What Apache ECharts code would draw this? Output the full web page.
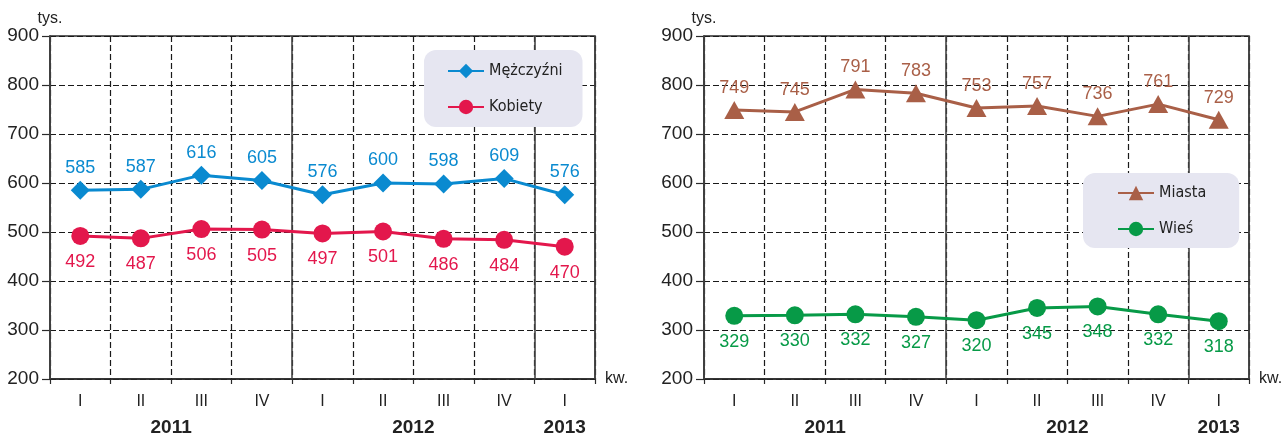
<!DOCTYPE html>
<html><head><meta charset="utf-8">
<script src="https://cdn.jsdelivr.net/npm/echarts@6/dist/echarts.min.js"></script>
<style>html,body{margin:0;padding:0;background:#fff}#c{width:1288px;height:437px}</style>
</head><body><div id="c"></div>
<script>
// ---- data ----
const quarters = ['I','II','III','IV','I','II','III','IV','I'];
const quarterYears = ['2011','2011','2011','2011','2012','2012','2012','2012','2013'];
const men    = [585, 587, 616, 605, 576, 600, 598, 609, 576];
const women  = [492, 487, 506, 505, 497, 501, 486, 484, 470];
const cities = [749, 745, 791, 783, 753, 757, 736, 761, 729];
const rural  = [329, 330, 332, 327, 320, 345, 348, 332, 318];
const yTicks = {min: 200, max: 900, step: 100};
const unitLabel = 'tys.';
const xUnitLabel = 'kw.';

// year label centres (in quarter-boundary units) derived from membership
const yearCentre = {};
(function(){
  const first = {}, last = {};
  quarterYears.forEach((y,i)=>{ if(!(y in first)) first[y]=i; last[y]=i+1; });
  Object.keys(first).forEach(y=>{ yearCentre[(first[y]+last[y])/2] = y; });
})();
const yearBoundaryStep = quarterYears.filter(y=>y===quarterYears[0]).length;

const FONT = "'Liberation Sans', Arial, sans-serif";
const NARROW = "'Liberation Sans Narrow', 'DejaVu Sans Condensed', 'Liberation Sans', sans-serif";
const AX = '#2a2a2a';
const DASH = {color:'#1a1a1a', type:[6,3], width:1.2};

function gridCfg(left, right){
  return {left, right, top: 36, bottom: 53, show: true, borderColor: AX, borderWidth: 1.5, backgroundColor: 'transparent'};
}
function xAxesFor(g){
  return [
    {type:'category', gridIndex:g, data: quarters, boundaryGap:true, z:0,
     axisLine:{lineStyle:{color:AX,width:1.5}}, axisTick:{show:true,length:5,lineStyle:{color:AX,width:1.2}},
     axisLabel:{color:'#222', fontSize:16, fontFamily:FONT, margin:15},
     splitLine:{show:true, lineStyle:DASH},
     name: xUnitLabel, nameLocation:'end', nameGap:10,
     nameTextStyle:{color:'#222', fontSize:16, fontFamily:FONT, padding:[0,0,10,0]}},
    {type:'value', gridIndex:g, min:0, max:quarters.length, interval:yearBoundaryStep, position:'bottom', z:2,
     axisLine:{show:false}, axisTick:{show:false}, axisLabel:{show:false},
     splitLine:{show:true, lineStyle:{color:'#444', type:'solid', width:1.6}}},
    {type:'value', gridIndex:g, min:0, max:quarters.length, interval:0.5, position:'bottom',
     axisLine:{show:false}, axisTick:{show:false}, splitLine:{show:false},
     axisLabel:{show:true, margin:39, color:'#222', fontSize:19, fontWeight:'bold', fontFamily:FONT,
       showMinLabel:true, showMaxLabel:true,
       formatter: v => yearCentre[v] || ''}}
  ];
}
function yAxisFor(g){
  return {type:'value', gridIndex:g, min:yTicks.min, max:yTicks.max, interval:yTicks.step,
    axisLine:{show:true, lineStyle:{color:AX,width:1.5}}, axisTick:{show:true,length:8,lineStyle:{color:AX,width:1.2}},
    axisLabel:{color:'#222', fontSize:19, fontFamily:FONT, margin:11},
    splitLine:{show:true, lineStyle:DASH},
    name: unitLabel, nameLocation:'end', nameGap:9,
    nameTextStyle:{color:'#222', fontSize:16, fontFamily:FONT, align:'center'}};
}
function lineSeries(name, data, color, symbol, size, pos, dist, xi, yi){
  return {type:'line', name, data, xAxisIndex:xi, yAxisIndex:yi, color,
    symbol, symbolSize:size, showAllSymbol:true,
    lineStyle:{color, width:3}, itemStyle:{color},
    label:{show:true, position:pos, distance:dist, color, fontSize:18, fontFamily:FONT},
    z:3};
}

const chart = echarts.init(document.getElementById('c'), null, {renderer:'canvas'});
chart.setOption({
  animation:false,
  grid:[gridCfg(50, 693), gridCfg(704, 39)],
  xAxis:[...xAxesFor(0), ...xAxesFor(1)],
  yAxis:[yAxisFor(0), yAxisFor(1)],
  legend:[
    {data:['Mężczyźni','Kobiety'], orient:'vertical', left:424, top:50,
     backgroundColor:'#e6e6f1', borderRadius:12, padding:[13,20,12,23], itemGap:20,
     itemWidth:36, itemHeight:18,
     textStyle:{color:'#222', fontSize:16, fontFamily:NARROW}},
    {data:['Miasta','Wieś'], orient:'vertical', left:1083, top:173,
     backgroundColor:'#e6e6f1', borderRadius:12, padding:[12,33,11,34], itemGap:20,
     itemWidth:36, itemHeight:18,
     textStyle:{color:'#222', fontSize:16, fontFamily:NARROW}}
  ],
  series:[
    lineSeries('Mężczyźni', men, '#0a8ad0', 'diamond', [19,19], 'top', 4, 0, 0),
    lineSeries('Kobiety', women, '#e3174c', 'circle', 18, 'bottom', 8, 0, 0),
    lineSeries('Miasta', cities, '#a95f47', 'triangle', [20,18], 'top', 4, 3, 1),
    lineSeries('Wieś', rural, '#079a47', 'circle', 18, 'bottom', 8, 3, 1)
  ]
});
</script>
</body></html>
